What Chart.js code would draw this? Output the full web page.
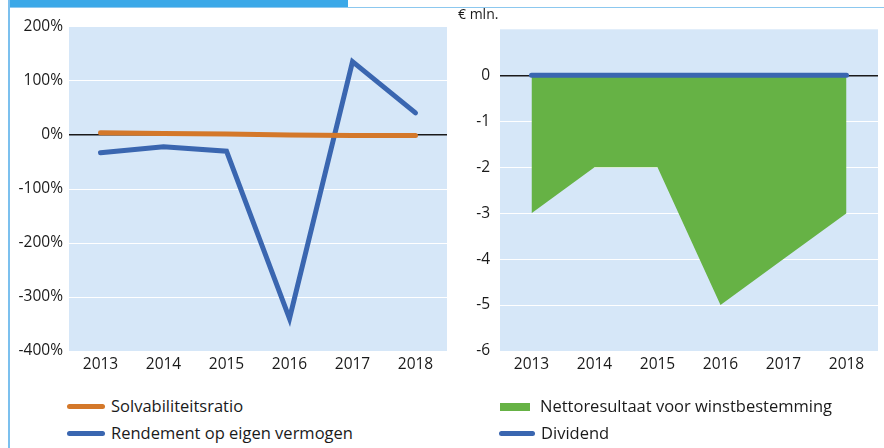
<!DOCTYPE html>
<html>
<head>
<meta charset="utf-8">
<script src="https://cdn.jsdelivr.net/npm/chart.js@4.4.1/dist/chart.umd.min.js"></script>
<style>
  body { margin: 0; background: #fff; font-family: "Open Sans", sans-serif; color: #1a1a1a; }
  #wrap { position: relative; width: 884px; height: 448px; overflow: hidden; }
  .box { position: absolute; }
  .legend { position: absolute; font-size: 16.5px; line-height: 20px; white-space: nowrap; }
  .legend .sw { position: absolute; }
</style>
</head>
<body>
<div id="wrap">
  <div class="box" style="left:9px;top:0;width:339px;height:7px;background:#3aa8e8"></div>
  <div class="box" style="left:9px;top:7px;width:875px;height:1px;background:#8cc8ef"></div>
  <div class="box" style="left:8px;top:0;width:2px;height:448px;background:#7cc0ee"></div>

  <div class="box" style="left:10px;top:10px;width:440px;height:370px"><canvas id="leftChart"></canvas></div>
  <div class="box" style="left:445px;top:10px;width:439px;height:370px"><canvas id="rightChart"></canvas></div>
  <div class="legend" style="left:458px;top:4px;font-size:14px">€ mln.</div>

  <div class="legend" style="left:111px;top:396px">Solvabiliteitsratio</div>
  <div class="legend sw" style="left:67px;top:404px;width:38px;height:5px;border-radius:3px;background:#d4782a"></div>
  <div class="legend" style="left:111px;top:423px">Rendement op eigen vermogen</div>
  <div class="legend sw" style="left:67px;top:431px;width:38px;height:5px;border-radius:3px;background:#3a66b0"></div>

  <div class="legend" style="left:540px;top:396px">Nettoresultaat voor winstbestemming</div>
  <div class="legend sw" style="left:500px;top:403px;width:30px;height:8px;background:#66b245"></div>
  <div class="legend" style="left:541px;top:423px">Dividend</div>
  <div class="legend sw" style="left:499px;top:431px;width:36px;height:5px;border-radius:3px;background:#3a66b0"></div>
</div>

<script>
const years = ['2013', '2014', '2015', '2016', '2017', '2018'];
const solvabiliteit = [4, 3, 2, 0, -1, -1];
const rendement = [-33, -22, -30, -340, 136, 41];
const nettoresultaat = [-3, -2, -2, -5, -4, -3];
const dividend = [0, 0, 0, 0, 0, 0];

const plotBg = {
    id: 'plotBg',
    beforeDraw(chart) {
        const { ctx, chartArea: a } = chart;
        ctx.save();
        ctx.fillStyle = '#d6e7f8';
        ctx.fillRect(a.left, a.top, a.right - a.left, a.bottom - a.top);
        ctx.restore();
    }
};

const tickFont = { family: 'Open Sans', size: 15.5 };

function gridColor(min, max) {
    return c => {
        const v = c.tick.value;
        if (v === 0) return '#1a1a1a';
        if (v === min || v === max) return 'rgba(0,0,0,0)';
        return '#ffffff';
    };
}

function baseOptions(yWidth, pad, yOpts) {
    return {
        responsive: true,
        maintainAspectRatio: false,
        animation: false,
        layout: { padding: pad },
        plugins: { legend: { display: false }, tooltip: { enabled: false } },
        scales: {
            x: {
                offset: true,
                grid: { display: false, drawTicks: false },
                border: { display: false },
                ticks: { color: '#1a1a1a', font: tickFont, padding: 4, maxRotation: 0 },
                afterFit: s => { s.height = 29; }
            },
            y: Object.assign({
                border: { display: false },
                afterFit: s => { s.width = yWidth; }
            }, yOpts)
        }
    };
}

new Chart(document.getElementById('leftChart'), {
    type: 'line',
    data: {
        labels: years,
        datasets: [
            {
                label: 'Solvabiliteitsratio',
                data: solvabiliteit,
                borderColor: '#d4782a',
                borderWidth: 5,
                borderCapStyle: 'round',
                pointRadius: 0,
                tension: 0
            },
            {
                label: 'Rendement op eigen vermogen',
                data: rendement,
                borderColor: '#3a66b0',
                borderWidth: 5,
                borderCapStyle: 'round',
                pointRadius: 0,
                tension: 0
            }
        ]
    },
    options: baseOptions(59, { top: 17, right: 3, left: 0, bottom: 0 }, {
        min: -400,
        max: 200,
        ticks: {
            stepSize: 100,
            color: '#1a1a1a',
            font: tickFont,
            padding: 6,
            callback: v => v + '%'
        },
        grid: { color: gridColor(-400, 200), lineWidth: c => c.tick.value === 0 ? 1.5 : 1, drawTicks: false }
    }),
    plugins: [plotBg]
});

new Chart(document.getElementById('rightChart'), {
    type: 'line',
    data: {
        labels: years,
        datasets: [
            {
                label: 'Dividend',
                data: dividend,
                borderColor: '#3a66b0',
                borderWidth: 5,
                borderCapStyle: 'round',
                pointRadius: 0,
                tension: 0,
                order: 0
            },
            {
                label: 'Nettoresultaat voor winstbestemming',
                data: nettoresultaat,
                borderWidth: 0,
                borderColor: 'rgba(0,0,0,0)',
                backgroundColor: '#66b245',
                fill: 'origin',
                pointRadius: 0,
                tension: 0,
                order: 1
            }
        ]
    },
    options: baseOptions(55, { top: 15.5, right: 6, left: 0, bottom: 0 }, {
        min: -6,
        max: 1,
        ticks: {
            stepSize: 1,
            color: '#1a1a1a',
            font: tickFont,
            padding: 10,
            callback: v => (v === 1 ? '' : v)
        },
        grid: { color: gridColor(-6, 1), lineWidth: c => c.tick.value === 0 ? 1.5 : 1, drawTicks: false }
    }),
    plugins: [plotBg]
});
</script>
</body>
</html>
